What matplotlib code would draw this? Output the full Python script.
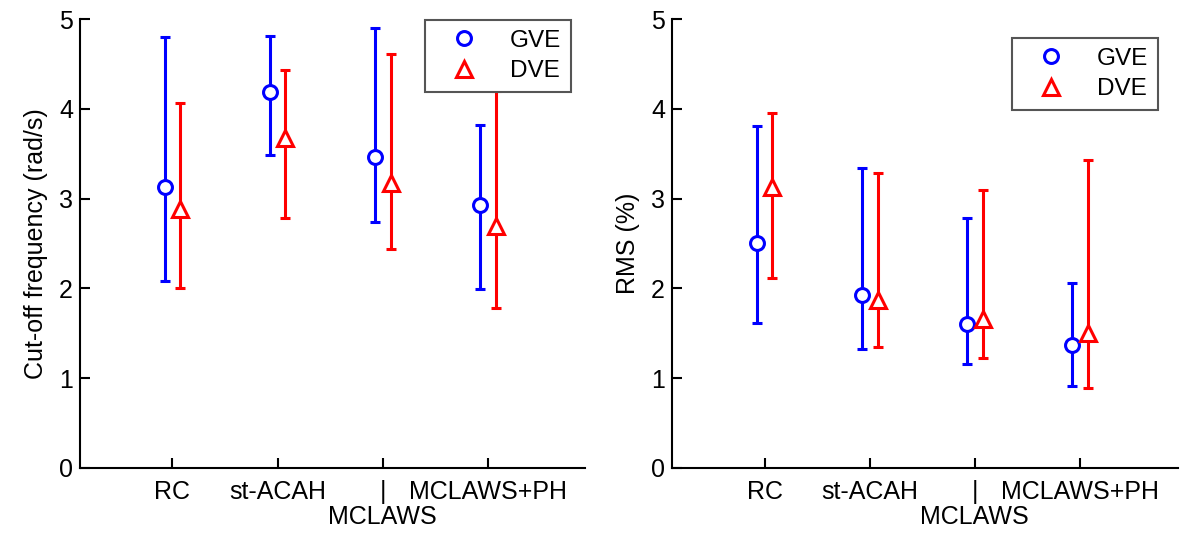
import numpy as np
import matplotlib.pyplot as plt
import matplotlib.transforms as mtransforms
from matplotlib.lines import Line2D

plt.rcParams['font.family'] = ['Liberation Sans', 'DejaVu Sans']

categories = ['RC', 'st-ACAH', '|', 'MCLAWS+PH']
sub_label = 'MCLAWS'  # second line under the third tick

# cut-off frequency (rad/s): centre, lower end, upper end
fc_gve = [3.13, 4.19, 3.47, 2.93]
fc_gve_lo = [2.08, 3.49, 2.74, 1.99]
fc_gve_hi = [4.80, 4.81, 4.90, 3.82]
fc_dve = [2.88, 3.68, 3.17, 2.70]
fc_dve_lo = [2.00, 2.78, 2.44, 1.78]
fc_dve_hi = [4.07, 4.43, 4.61, 4.20]

# RMS (%)
rms_gve = [2.51, 1.93, 1.60, 1.37]
rms_gve_lo = [1.61, 1.33, 1.16, 0.91]
rms_gve_hi = [3.81, 3.34, 2.78, 2.06]
rms_dve = [3.13, 1.87, 1.66, 1.50]
rms_dve_lo = [2.12, 1.35, 1.22, 0.89]
rms_dve_hi = [3.95, 3.29, 3.10, 3.43]

x = np.arange(1, len(categories) + 1)
off = 0.075
blue, red = '#0000ff', '#ff0000'

fig = plt.figure(figsize=(11.88, 5.33), dpi=100)
ax1 = fig.add_axes([0.0673, 0.122, 0.4255, 0.842])
ax2 = fig.add_axes([0.5657, 0.122, 0.4255, 0.842])


def panel(ax, g, glo, ghi, d, dlo, dhi, ylabel, anchor):
    g, glo, ghi = np.array(g), np.array(glo), np.array(ghi)
    d, dlo, dhi = np.array(d), np.array(dlo), np.array(dhi)
    ax.errorbar(x - off, g, yerr=[g - glo, ghi - g], fmt='o', color=blue,
                mfc='white', mec=blue, ms=10, mew=2.2, elinewidth=2.2,
                capsize=3.5, capthick=2.2)
    ax.errorbar(x + off, d, yerr=[d - dlo, dhi - d], fmt='^', color=red,
                mfc='white', mec=red, ms=12, mew=2.2, elinewidth=2.2,
                capsize=3.5, capthick=2.2)
    ax.set_xlim(0.12, 4.93)
    ax.set_ylim(0, 5)
    ax.set_xticks(x)
    ax.set_xticklabels(categories)
    ax.set_yticks(range(6))
    ax.spines['top'].set_visible(False)
    ax.spines['right'].set_visible(False)
    for s in ['left', 'bottom']:
        ax.spines[s].set_linewidth(1.5)
    ax.tick_params(direction='in', length=7, width=1.5, labelsize=18, pad=5)
    ax.tick_params(axis='x', pad=9)
    trans = mtransforms.blended_transform_factory(ax.transData, ax.transAxes)
    ax.text(x[2], -0.11, sub_label, transform=trans, ha='center', va='center',
            fontsize=18)
    ax.set_ylabel(ylabel, fontsize=18, labelpad=8)
    handles = [Line2D([], [], ls='', marker='o', ms=10, mew=2.2, mfc='white', mec=blue),
               Line2D([], [], ls='', marker='^', ms=12, mew=2.2, mfc='white', mec=red)]
    leg = ax.legend(handles, ['GVE', 'DVE'], loc='upper right', bbox_to_anchor=anchor,
                    fontsize=17.5, frameon=True, fancybox=False, edgecolor='#555555',
                    handletextpad=0.7, borderpad=0.4, labelspacing=0.35,
                    handlelength=2.4, framealpha=1)
    leg.get_frame().set_linewidth(1.5)


panel(ax1, fc_gve, fc_gve_lo, fc_gve_hi, fc_dve, fc_dve_lo, fc_dve_hi,
      'Cut-off frequency (rad/s)', (0.995, 1.025))
panel(ax2, rms_gve, rms_gve_lo, rms_gve_hi, rms_dve, rms_dve_lo, rms_dve_hi,
      'RMS (%)', (0.985, 0.985))

fig.savefig('out.png', dpi=100)
